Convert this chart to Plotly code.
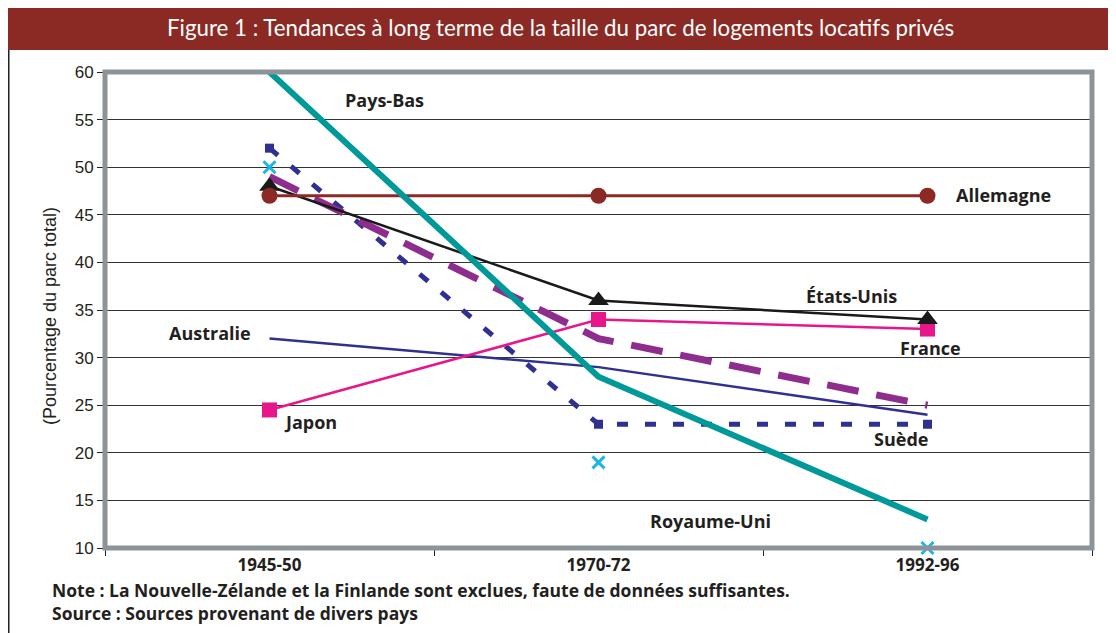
import plotly.graph_objects as go

periods = ["1945-50", "1970-72", "1992-96"]
pays_bas = [60, 28, 13]
allemagne = [47, 47, 47]
etats_unis = [48, 36, 34]
rose = [24.5, 34, 33]          # Japon / France (pink)
violet = [49, 32, 25]          # purple dashed
australie = [32, 29, 24]
suede = [52, 23, 23]
royaume_uni = [50, 19, 10]

labels = ["Pays-Bas", "Allemagne", "États-Unis", "Australie", "France", "Japon", "Suède", "Royaume-Uni"]
label_x = [0.35, 2.23, 1.77, -0.18, 2.01, 0.125, 1.92, 1.34]
label_y = [57.1, 47.1, 36.5, 32.6, 31.0, 23.2, 21.5, 12.8]

title_text = "Figure 1 : Tendances à long terme de la taille du parc de logements locatifs privés"
note1 = "Note : La Nouvelle-Zélande et la Finlande sont exclues, faute de données suffisantes."
note2 = "Source : Sources provenant de divers pays"

fig = go.Figure()
fig.add_trace(go.Scatter(x=periods, y=suede, mode="lines+markers",
                         line=dict(color="#2E3192", width=5, dash="11px,17px"),
                         marker=dict(symbol="square", size=9, color="#2E3192")))
fig.add_trace(go.Scatter(x=periods, y=australie, mode="lines",
                         line=dict(color="#2E3192", width=2.5)))
fig.add_trace(go.Scatter(x=periods, y=violet, mode="lines",
                         line=dict(color="#8E2D8E", width=7, dash="32px,18px")))
fig.add_trace(go.Scatter(x=periods, y=rose, mode="lines+markers",
                         line=dict(color="#E8168B", width=2.5),
                         marker=dict(symbol="square", size=15, color="#E8168B")))
fig.add_trace(go.Scatter(x=periods, y=etats_unis, mode="lines+markers",
                         line=dict(color="#1A1A1A", width=2.5),
                         marker=dict(symbol="triangle-up", size=18, color="#1A1A1A")))
fig.add_trace(go.Scatter(x=periods, y=allemagne, mode="lines+markers",
                         line=dict(color="#8B2A24", width=3),
                         marker=dict(symbol="circle", size=16, color="#8B2A24")))
fig.add_trace(go.Scatter(x=periods, y=pays_bas, mode="lines",
                         line=dict(color="#00999A", width=6)))
fig.add_trace(go.Scatter(x=periods, y=royaume_uni, mode="markers", cliponaxis=False,
                         marker=dict(symbol="x-thin", size=12, color="#1CB5EA",
                                     line=dict(width=3, color="#1CB5EA"))))

for t, x, y in zip(labels, label_x, label_y):
    fig.add_annotation(x=x, y=y, xref="x", yref="y", text=t, showarrow=False,
                       font=dict(family="Open Sans", size=18, color="#231F20", weight="bold"))

# title bar
fig.add_shape(type="rect", xref="paper", yref="paper", x0=-0.1, x1=1.03, y0=1.046, y1=1.14,
              fillcolor="#8B2A24", line=dict(width=0), layer="above")
fig.add_annotation(xref="paper", yref="paper", x=0.461, y=1.093, text=title_text, showarrow=False,
                   font=dict(family="Lato", size=22.3, color="white"),
                   xanchor="center", yanchor="middle")
# left frame line
fig.add_shape(type="line", xref="paper", yref="paper", x0=-0.0975, x1=-0.0975, y0=1.046, y1=-0.2,
              line=dict(color="#231F20", width=1.5))
# plot border
fig.add_shape(type="rect", xref="x domain", yref="y domain", x0=0, x1=1, y0=0, y1=1,
              line=dict(color="#8C9399", width=5), layer="above")

fig.add_annotation(xref="paper", yref="paper", x=-0.068, y=0.487, text="(Pourcentage du parc total)",
                   textangle=-90, showarrow=False,
                   font=dict(family="Liberation Sans", size=18, color="#231F20"))
fig.add_annotation(xref="paper", yref="paper", x=-0.056, y=-0.088, xanchor="left", yanchor="middle",
                   text=note1, showarrow=False,
                   font=dict(family="Open Sans", size=17.5, color="#231F20", weight="bold"))
fig.add_annotation(xref="paper", yref="paper", x=-0.056, y=-0.137, xanchor="left", yanchor="middle",
                   text=note2, showarrow=False,
                   font=dict(family="Open Sans", size=17.5, color="#231F20", weight="bold"))

fig.update_layout(
    width=1108, height=625,
    margin=dict(l=97, r=24, t=64, b=85),
    paper_bgcolor="white", plot_bgcolor="white",
    showlegend=False,
    xaxis=dict(type="category", range=[-0.5, 2.5], tickson="boundaries", ticks="outside",
               ticklen=7, tickcolor="#231F20", showgrid=False, zeroline=False, showline=False,
               tickfont=dict(family="Open Sans", size=17, color="#231F20", weight="bold"),
               ticklabelstandoff=5),
    yaxis=dict(range=[10, 60], dtick=5, ticks="outside", ticklen=7, tickcolor="#231F20",
               showgrid=True, gridcolor="#333333", gridwidth=1, zeroline=False, showline=False,
               tickfont=dict(family="Liberation Sans", size=17, color="#231F20")),
)
fig.write_html("out.html")
